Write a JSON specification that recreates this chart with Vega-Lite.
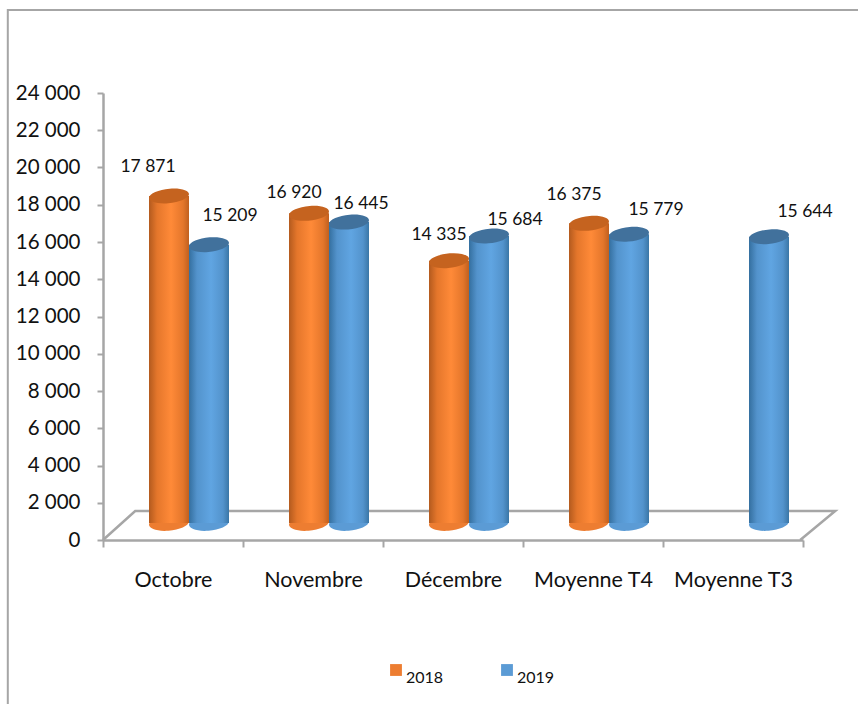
{
"$schema":"https://vega.github.io/schema/vega-lite/v6.json",
"width":700,"height":447,
"autosize":{"type":"none"},
"padding":{"left":103,"top":93,"right":55,"bottom":164},
"background":"white",
"view":{"stroke":null},
"config":{"font":"Lato","axis":{"grid":false}},
"datasets":{
"bars":[
{"mois":"Octobre","annee":"2018","valeur":17871,"etiquette":"17 871"},
{"mois":"Octobre","annee":"2019","valeur":15209,"etiquette":"15 209"},
{"mois":"Novembre","annee":"2018","valeur":16920,"etiquette":"16 920"},
{"mois":"Novembre","annee":"2019","valeur":16445,"etiquette":"16 445"},
{"mois":"Décembre","annee":"2018","valeur":14335,"etiquette":"14 335"},
{"mois":"Décembre","annee":"2019","valeur":15684,"etiquette":"15 684"},
{"mois":"Moyenne T4","annee":"2018","valeur":16375,"etiquette":"16 375"},
{"mois":"Moyenne T4","annee":"2019","valeur":15779,"etiquette":"15 779"},
{"mois":"Moyenne T3","annee":"2019","valeur":15644,"etiquette":"15 644"}
],
"floor":[{"n":1,"a":0,"b":0},{"n":2,"a":0.23,"b":1557},{"n":3,"a":5.23,"b":1557},{"n":4,"a":4.98,"b":0}],
"frame":[{"n":1,"a":-0.68,"b":-8900},{"n":2,"a":-0.68,"b":28456},{"n":3,"a":5.4,"b":28456}]
},
"resolve":{"scale":{"x":"independent","y":"independent"},"axis":{"x":"independent","y":"independent"}},
"layer":[
{"data":{"name":"frame"},"mark":{"type":"line","color":"#A6A6A6","strokeWidth":2,"clip":false},
 "encoding":{"x":{"field":"a","type":"quantitative","axis":null,"scale":{"domain":[0,5],"zero":false,"nice":false}},
 "y":{"field":"b","type":"quantitative","axis":null,"scale":{"domain":[0,24000],"nice":false,"zero":false}},"order":{"field":"n"}}},
{"data":{"name":"floor"},"mark":{"type":"line","color":"#A6A6A6","strokeWidth":2.5,"clip":false},
 "encoding":{"x":{"field":"a","type":"quantitative","axis":null,"scale":{"domain":[0,5],"zero":false,"nice":false}},
 "y":{"field":"b","type":"quantitative","axis":null,"scale":{"domain":[0,24000],"nice":false,"zero":false}},"order":{"field":"n"}}},
{"data":{"name":"bars"},"mark":{"type":"bar","opacity":0},
 "encoding":{
 "x":{"field":"mois","type":"nominal","sort":null,"title":null,"scale":{"paddingInner":0,"paddingOuter":0},
  "axis":{"labelAngle":0,"tickBand":"extent","labelFontSize":21.5,"labelColor":"#111","labelPadding":22,"tickSize":7,"tickColor":"#A6A6A6","tickWidth":2,"domainColor":"#A6A6A6","domainWidth":2.5}},
 "y":{"field":"valeur","type":"quantitative","title":null,"scale":{"domain":[0,24000],"nice":false},
  "axis":{"values":[0,2000,4000,6000,8000,10000,12000,14000,16000,18000,20000,22000,24000],"labelExpr":"replace(format(datum.value,','),',',' ')","labelFontSize":20.5,"labelColor":"#111","labelPadding":17,"tickSize":6,"tickColor":"#A6A6A6","tickWidth":2,"domainColor":"#A6A6A6","domainWidth":2.5}}}},
{"data":{"name":"bars"},
 "encoding":{
 "x":{"field":"mois","type":"nominal","sort":["Octobre","Novembre","Décembre","Moyenne T4","Moyenne T3"],"axis":null,"scale":{"paddingInner":0,"paddingOuter":0}},
 "xOffset":{"field":"annee","type":"nominal","scale":{"type":"band","domain":["2018","2019"],"range":[46,126],"padding":0}},
 "y":{"field":"valeur","type":"quantitative","axis":null,"scale":{"domain":[-929,23497],"nice":false,"zero":false}}},
 "layer":[
 {"mark":{"type":"point","filled":true,"opacity":1,"size":1600,"shape":"M-1,0.08 A1,0.38 -6 1 1 1,-0.08 A1,0.38 -6 1 1 -1,0.08 Z"},
  "encoding":{"y":{"datum":0,"type":"quantitative"},
   "color":{"field":"annee","type":"nominal","scale":{"domain":["2018","2019"],"range":["#ED7D31","#5B9BD5"]},
   "legend":{"title":null,"orient":"none","legendX":285,"legendY":569,"direction":"horizontal","symbolType":"square","symbolSize":140,"labelFontSize":16,"labelColor":"#111","columnPadding":55,"labelOffset":2,"labelBaseline":"top"}}}},
 {"transform":[{"filter":"datum.annee==='2018'"}],"mark":{"type":"bar","color":{"x1":0,"y1":0,"x2":1,"y2":0,"gradient":"linear","stops":[{"offset":0,"color":"#B35A1E"},{"offset":0.2,"color":"#E4762B"},{"offset":0.55,"color":"#FF8A38"},{"offset":0.85,"color":"#E4762B"},{"offset":1,"color":"#C0601F"}]}},
  "encoding":{"y2":{"datum":0}}},
 {"transform":[{"filter":"datum.annee==='2019'"}],"mark":{"type":"bar","color":{"x1":0,"y1":0,"x2":1,"y2":0,"gradient":"linear","stops":[{"offset":0,"color":"#346F9F"},{"offset":0.2,"color":"#5393CC"},{"offset":0.55,"color":"#60A5E2"},{"offset":0.85,"color":"#5393CC"},{"offset":1,"color":"#3A76A6"}]}},
  "encoding":{"y2":{"datum":0}}},
 {"transform":[{"filter":"datum.annee==='2018'"}],"mark":{"type":"point","filled":true,"opacity":1,"size":1600,"color":"#C5631F","shape":"M-1,0.08 A1,0.36 -6 1 1 1,-0.08 A1,0.36 -6 1 1 -1,0.08 Z"}},
 {"transform":[{"filter":"datum.annee==='2019'"}],"mark":{"type":"point","filled":true,"opacity":1,"size":1600,"color":"#41719C","shape":"M-1,0.08 A1,0.36 -6 1 1 1,-0.08 A1,0.36 -6 1 1 -1,0.08 Z"}},
 {"transform":[{"filter":"datum.valeur===17871"}],"mark":{"type":"text","fontSize":17.5,"color":"#111","dx":-21,"dy":-29},"encoding":{"text":{"field":"etiquette"}}},
 {"transform":[{"filter":"datum.valeur===15209"}],"mark":{"type":"text","fontSize":17.5,"color":"#111","dx":21,"dy":-28.5},"encoding":{"text":{"field":"etiquette"}}},
 {"transform":[{"filter":"datum.valeur===16920"}],"mark":{"type":"text","fontSize":17.5,"color":"#111","dx":-15,"dy":-20.3},"encoding":{"text":{"field":"etiquette"}}},
 {"transform":[{"filter":"datum.valeur===16445"}],"mark":{"type":"text","fontSize":17.5,"color":"#111","dx":12,"dy":-18},"encoding":{"text":{"field":"etiquette"}}},
 {"transform":[{"filter":"datum.valeur===14335"}],"mark":{"type":"text","fontSize":17.5,"color":"#111","dx":-10,"dy":-25.5},"encoding":{"text":{"field":"etiquette"}}},
 {"transform":[{"filter":"datum.valeur===15684"}],"mark":{"type":"text","fontSize":17.5,"color":"#111","dx":26,"dy":-16},"encoding":{"text":{"field":"etiquette"}}},
 {"transform":[{"filter":"datum.valeur===16375"}],"mark":{"type":"text","fontSize":17.5,"color":"#111","dx":-15,"dy":-28.5},"encoding":{"text":{"field":"etiquette"}}},
 {"transform":[{"filter":"datum.valeur===15779"}],"mark":{"type":"text","fontSize":17.5,"color":"#111","dx":27,"dy":-24.5},"encoding":{"text":{"field":"etiquette"}}},
 {"transform":[{"filter":"datum.valeur===15644"}],"mark":{"type":"text","fontSize":17.5,"color":"#111","dx":36,"dy":-24.5},"encoding":{"text":{"field":"etiquette"}}}
 ]}
]}
